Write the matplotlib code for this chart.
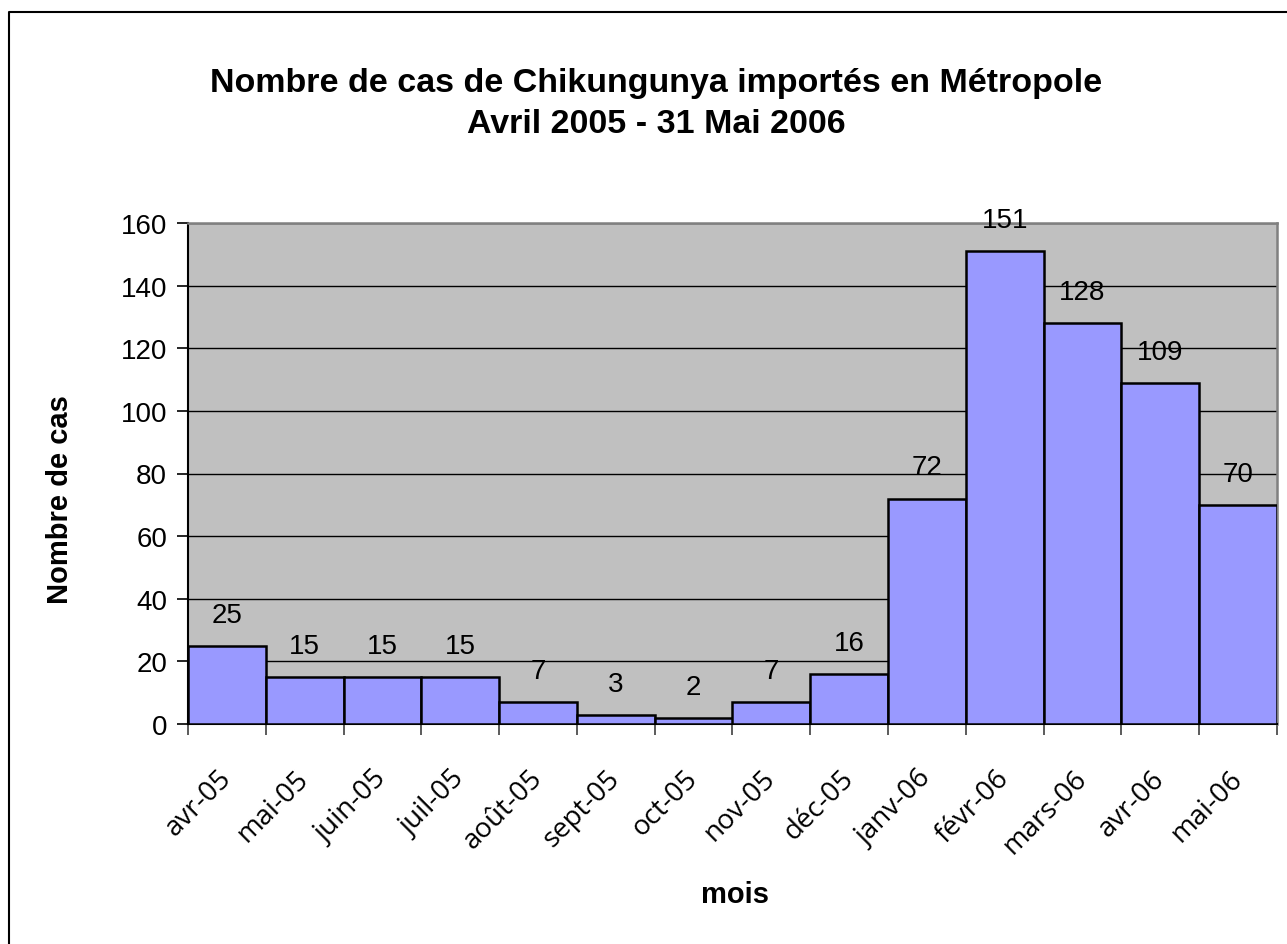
import matplotlib
matplotlib.use('Agg')
import matplotlib.pyplot as plt
from matplotlib.lines import Line2D
import numpy as np

plt.rcParams['font.family'] = ['Liberation Sans', 'DejaVu Sans']

# data
mois = ['avr-05', 'mai-05', 'juin-05', 'juil-05', 'août-05', 'sept-05',
        'oct-05', 'nov-05', 'déc-05', 'janv-06', 'févr-06', 'mars-06',
        'avr-06', 'mai-06']
cas = [25, 15, 15, 15, 7, 3, 2, 7, 16, 72, 151, 128, 109, 70]
y_ticks = [0, 20, 40, 60, 80, 100, 120, 140, 160]

W, H = 1287, 945
fig = plt.figure(figsize=(W / 100, H / 100), dpi=100)
# chart border: only the left and top edges are inside the picture
fig.lines.append(Line2D([9 / W, 9 / W, 1.0], [0.0, 1 - 13 / H, 1 - 13 / H],
                        transform=fig.transFigure, color='black',
                        linewidth=1.5))

ax = fig.add_axes([188 / W, 220 / H, 1089 / W, 501 / H])
ax.set_facecolor('#C0C0C0')

x = np.arange(len(cas))
ax.bar(x, cas, width=1.0, color='#9999FF', edgecolor='black', linewidth=1.8,
       zorder=3)
for xi, v in zip(x, cas):
    ax.annotate(str(v), (xi, v), xytext=(0, 13), textcoords='offset points',
                ha='center', va='bottom', fontsize=20, zorder=4)

ax.set_xlim(-0.5, len(cas) - 0.5)
ax.set_ylim(0, 160)
ax.set_yticks(y_ticks)
ax.tick_params(axis='y', labelsize=20, length=8, width=1.2, direction='out',
               pad=7)
ax.yaxis.grid(True, color='black', linewidth=1.0, zorder=1)
ax.set_axisbelow(True)

# ticks at category boundaries, labels at category centers
ax.set_xticks(np.arange(len(cas) + 1) - 0.5)
ax.set_xticklabels([])
ax.tick_params(axis='x', length=8, width=1.2, direction='out', color='#404040')
ax.set_xticks(x, minor=True)
ax.set_xticklabels(mois, minor=True, rotation=45, ha='right', va='center',
                   rotation_mode='anchor', fontsize=20,
                   family=['Open Sans', 'DejaVu Sans'])
ax.tick_params(axis='x', which='minor', length=0, pad=36)

for side in ['top', 'right']:
    ax.spines[side].set_color('#808080')
    ax.spines[side].set_linewidth(1.8)
for side in ['left', 'bottom']:
    ax.spines[side].set_color('black')
    ax.spines[side].set_linewidth(1.5)

fig.text(60 / W, 1 - 500 / H, 'Nombre de cas', rotation=90, ha='center',
         va='center', fontsize=21, fontweight='bold')
fig.text(735 / W, 1 - 895 / H, 'mois', ha='center', va='center',
         fontsize=21, fontweight='bold')

fig.text(656 / W, 1 - 104 / H,
         'Nombre de cas de Chikungunya importés en Métropole\nAvril 2005 - 31 Mai 2006',
         ha='center', va='center', fontsize=24.5, fontweight='bold',
         linespacing=1.45)

fig.savefig('out.png', dpi=100, facecolor='white')
